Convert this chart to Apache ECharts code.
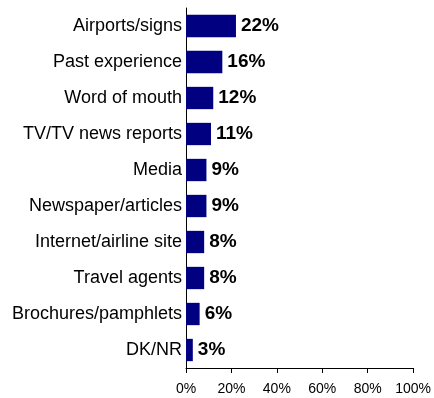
<!DOCTYPE html>
<html>
<head>
<meta charset="utf-8">
<script src="https://cdn.jsdelivr.net/npm/echarts@6/dist/echarts.min.js"></script>
<style>
  html, body { margin: 0; padding: 0; background: #fff; }
  #chart { width: 434px; height: 398px; }
</style>
</head>
<body>
<div id="chart"></div>
<script>
// Sources of information, top to bottom
const categories = [
  'Airports/signs',
  'Past experience',
  'Word of mouth',
  'TV/TV news reports',
  'Media',
  'Newspaper/articles',
  'Internet/airline site',
  'Travel agents',
  'Brochures/pamphlets',
  'DK/NR'
];
const values = [22, 16, 12, 11, 9, 9, 8, 8, 6, 3];
const xTicks = [0, 20, 40, 60, 80, 100];

const chart = echarts.init(document.getElementById('chart'), null, { renderer: 'canvas' });
chart.setOption({
  animation: false,
  grid: { left: 186, right: 20, top: 8, bottom: 30, containLabel: false },
  xAxis: {
    type: 'value',
    min: xTicks[0],
    max: xTicks[xTicks.length - 1],
    interval: 20,
    axisLine: { show: true, lineStyle: { color: '#000', width: 1 } },
    axisTick: { show: true, length: 5, lineStyle: { color: '#000' } },
    axisLabel: {
      formatter: v => v + '%',
      color: '#000',
      fontFamily: 'Liberation Sans, Arial, sans-serif',
      fontSize: 14,
      margin: 14
    },
    splitLine: { show: false }
  },
  yAxis: {
    type: 'category',
    data: categories,
    inverse: true,
    axisLine: { show: true, lineStyle: { color: '#000', width: 1 } },
    axisTick: { show: false },
    axisLabel: {
      color: '#000',
      fontFamily: 'Liberation Sans, Arial, sans-serif',
      fontSize: 18,
      margin: 4
    }
  },
  series: [{
    type: 'bar',
    data: values,
    barCategoryGap: '38%',
    itemStyle: { color: '#000080' },
    label: {
      show: true,
      position: 'right',
      distance: 5,
      formatter: p => p.value + '%',
      color: '#000',
      fontWeight: 'bold',
      fontFamily: 'Liberation Sans, Arial, sans-serif',
      fontSize: 19
    }
  }]
});
</script>
</body>
</html>
